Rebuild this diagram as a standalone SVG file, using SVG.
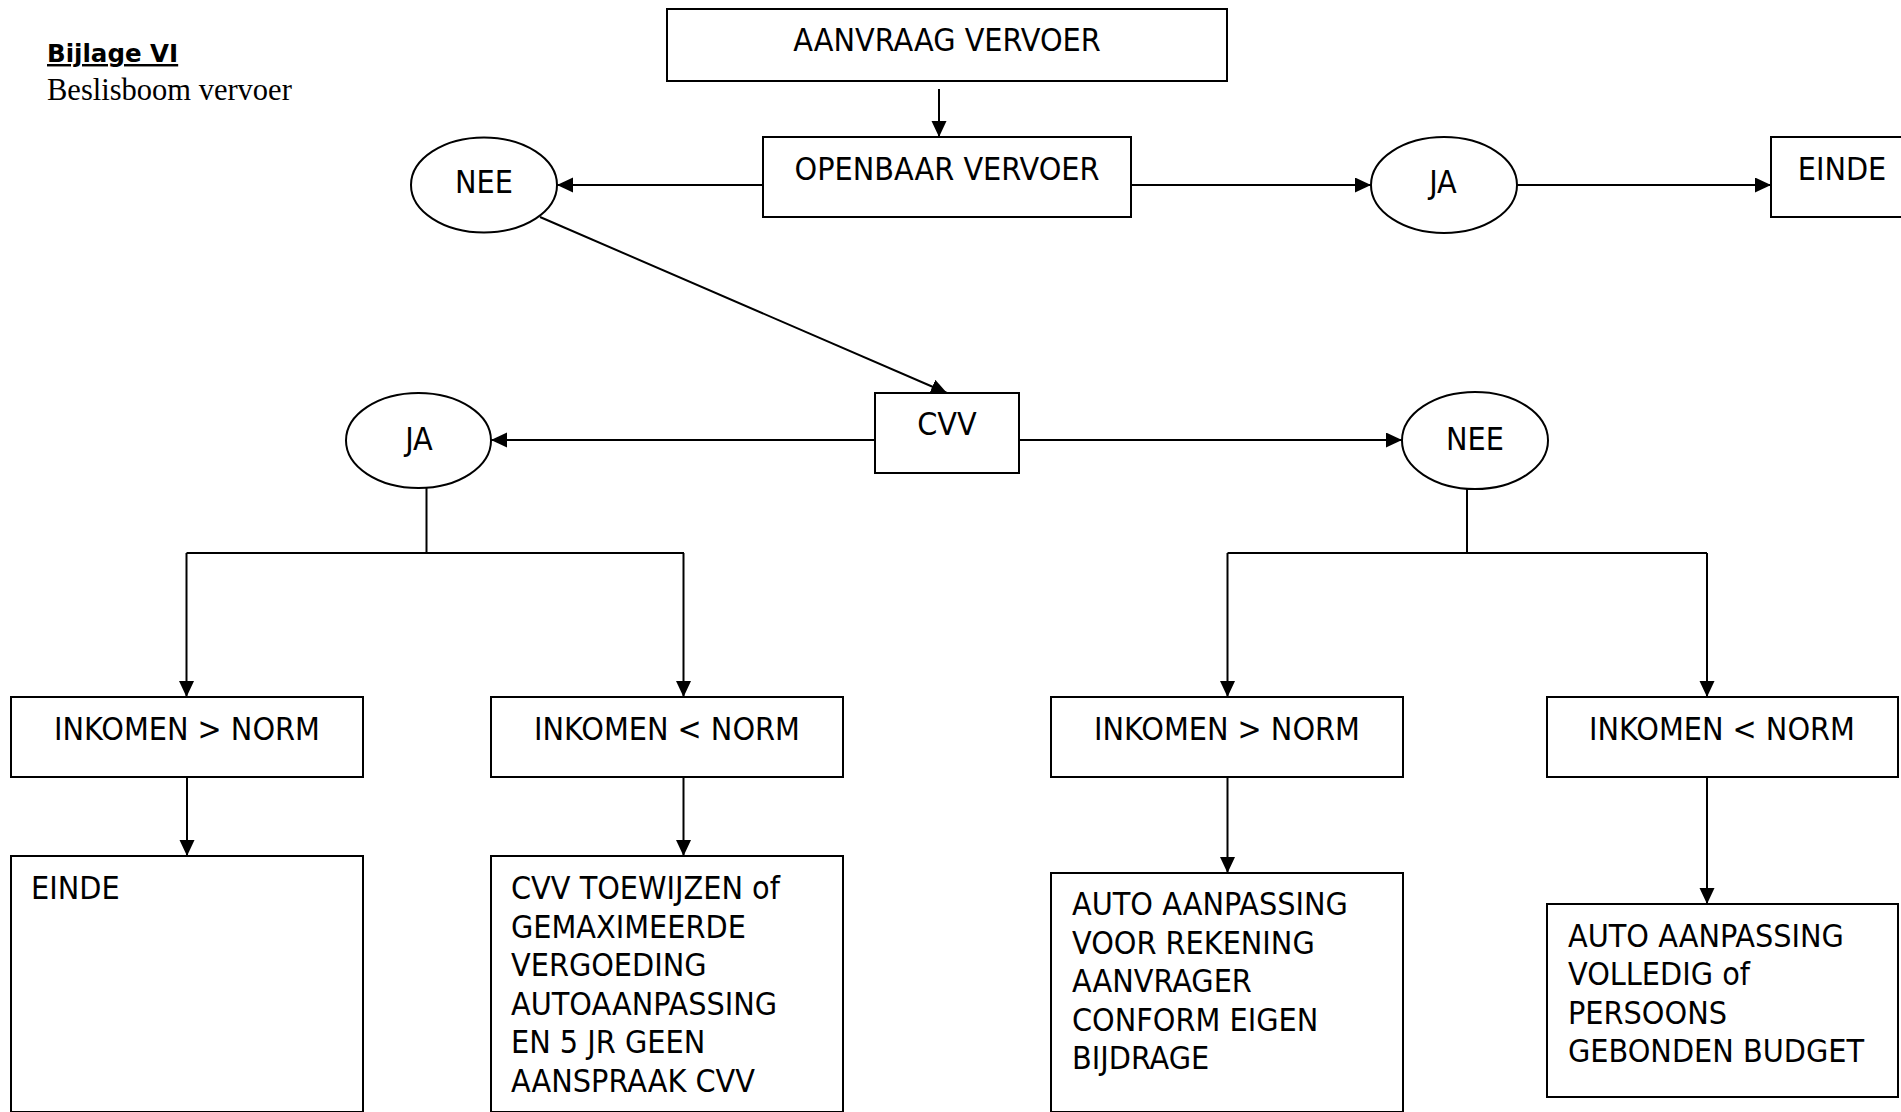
<svg xmlns="http://www.w3.org/2000/svg" width="1901" height="1112" viewBox="0 0 1901 1112">
<defs>
<marker id="arr" markerUnits="userSpaceOnUse" markerWidth="16" markerHeight="16" refX="16" refY="7.5" orient="auto">
<path d="M0,0 L16,7.5 L0,15 Z" fill="#000"/>
</marker>
<style>
rect.b{fill:#fff;stroke:#000;stroke-width:2}
ellipse.e{fill:#fff;stroke:#000;stroke-width:2}
text.t{font-family:"DejaVu Sans Condensed","DejaVu Sans",sans-serif;font-stretch:condensed;font-size:32px;fill:#000}
text.c{text-anchor:middle}
.ln{stroke:#000;stroke-width:2;fill:none}
.ar{stroke:#000;stroke-width:2;fill:none;marker-end:url(#arr)}
</style>
</defs>
<rect width="1901" height="1112" fill="#fff"/>
<g id="title">
<text x="47" y="62" style="font-family:'DejaVu Sans',Verdana,sans-serif;font-weight:bold;font-size:24.5px;text-decoration:underline">Bijlage VI</text>
<text x="47" y="100" style="font-family:'Liberation Serif','Times New Roman',serif;font-size:30.5px">Beslisboom vervoer</text>
</g>
<g id="connectors">
<line class="ar" x1="939" y1="89" x2="939" y2="137"/>
<line class="ar" x1="762" y1="185" x2="557" y2="185"/>
<line class="ar" x1="1131" y1="185" x2="1371" y2="185"/>
<line class="ar" x1="1517" y1="185" x2="1771" y2="185"/>
<line class="ar" x1="540" y1="217" x2="947" y2="393"/>
<line class="ar" x1="875" y1="440" x2="491" y2="440"/>
<line class="ar" x1="1019" y1="440" x2="1402" y2="440"/>
<path class="ln" d="M426.5,488 V553 M186.5,553 H684"/>
<line class="ar" x1="186.5" y1="553" x2="186.5" y2="697"/>
<line class="ar" x1="683.5" y1="553" x2="683.5" y2="697"/>
<path class="ln" d="M1467,489 V553 M1227.5,553 H1707"/>
<line class="ar" x1="1227.5" y1="553" x2="1227.5" y2="697"/>
<line class="ar" x1="1707" y1="553" x2="1707" y2="697"/>
<line class="ar" x1="187" y1="777" x2="187" y2="856"/>
<line class="ar" x1="683.5" y1="777" x2="683.5" y2="856"/>
<line class="ar" x1="1227.5" y1="777" x2="1227.5" y2="873"/>
<line class="ar" x1="1707" y1="777" x2="1707" y2="904"/>
</g>
<g id="aanvraag">
<rect class="b" x="667" y="9" width="560" height="72"/>
<text class="t c" x="947" y="51">AANVRAAG VERVOER</text>
</g>
<g id="openbaar">
<rect class="b" x="763" y="137" width="368" height="80"/>
<text class="t c" x="947" y="180">OPENBAAR VERVOER</text>
</g>
<g id="nee1">
<ellipse class="e" cx="484" cy="185" rx="73" ry="47.5"/>
<text class="t c" x="484" y="193">NEE</text>
</g>
<g id="ja1">
<ellipse class="e" cx="1444" cy="185" rx="73" ry="48"/>
<text class="t c" x="1443" y="193">JA</text>
</g>
<g id="einde1">
<rect class="b" x="1771" y="137" width="140" height="80"/>
<text class="t c" x="1842" y="180">EINDE</text>
</g>
<g id="cvv">
<rect class="b" x="875" y="393" width="144" height="80"/>
<text class="t c" x="947" y="435">CVV</text>
</g>
<g id="ja2">
<ellipse class="e" cx="418.5" cy="440.5" rx="72.5" ry="47.5"/>
<text class="t c" x="419" y="450">JA</text>
</g>
<g id="nee2">
<ellipse class="e" cx="1475" cy="440.5" rx="73" ry="48.5"/>
<text class="t c" x="1475" y="450">NEE</text>
</g>
<g id="ink1">
<rect class="b" x="11" y="697" width="352" height="80"/>
<text class="t c" x="187" y="740">INKOMEN &gt; NORM</text>
</g>
<g id="ink2">
<rect class="b" x="491" y="697" width="352" height="80"/>
<text class="t c" x="667" y="740">INKOMEN &lt; NORM</text>
</g>
<g id="ink3">
<rect class="b" x="1051" y="697" width="352" height="80"/>
<text class="t c" x="1227" y="740">INKOMEN &gt; NORM</text>
</g>
<g id="ink4">
<rect class="b" x="1547" y="697" width="351" height="80"/>
<text class="t c" x="1722" y="740">INKOMEN &lt; NORM</text>
</g>
<g id="einde2">
<rect class="b" x="11" y="856" width="352" height="256"/>
<text class="t" x="31" y="899">EINDE</text>
</g>
<g id="cvv-toewijzen">
<rect class="b" x="491" y="856" width="352" height="256"/>
<text class="t" x="511" y="899">CVV TOEWIJZEN of</text>
<text class="t" x="511" y="937.5">GEMAXIMEERDE</text>
<text class="t" x="511" y="976">VERGOEDING</text>
<text class="t" x="511" y="1014.5">AUTOAANPASSING</text>
<text class="t" x="511" y="1053">EN 5 JR GEEN</text>
<text class="t" x="511" y="1091.5">AANSPRAAK CVV</text>
</g>
<g id="auto-rekening">
<rect class="b" x="1051" y="873" width="352" height="239"/>
<text class="t" x="1072" y="915">AUTO AANPASSING</text>
<text class="t" x="1072" y="953.5">VOOR REKENING</text>
<text class="t" x="1072" y="992">AANVRAGER</text>
<text class="t" x="1072" y="1030.5">CONFORM EIGEN</text>
<text class="t" x="1072" y="1069">BIJDRAGE</text>
</g>
<g id="auto-volledig">
<rect class="b" x="1547" y="904" width="351" height="193"/>
<text class="t" x="1568" y="946.5">AUTO AANPASSING</text>
<text class="t" x="1568" y="985">VOLLEDIG of</text>
<text class="t" x="1568" y="1023.5">PERSOONS</text>
<text class="t" x="1568" y="1062">GEBONDEN BUDGET</text>
</g>
</svg>
